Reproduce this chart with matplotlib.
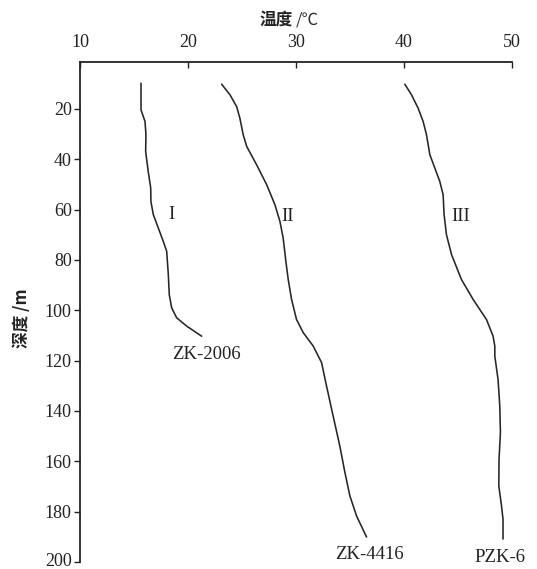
import matplotlib
matplotlib.use("Agg")
import matplotlib.pyplot as plt
import matplotlib.transforms as mtransforms

plt.rcParams['font.family'] = ['Liberation Serif', 'Noto Sans CJK SC']

# Well ZK-2006 (I): depth (m), temperature (°C)
d1 = [9.8, 20.4, 25.0, 30.3, 36.9, 44.9, 51.4, 56.8, 62.0, 67.3, 72.6, 76.6, 85.8, 93.8, 99.0, 103.0, 106.3, 110.3]
t1 = [15.65, 15.65, 16.02, 16.11, 16.08, 16.32, 16.55, 16.57, 16.79, 17.25, 17.71, 18.03, 18.18, 18.27, 18.49, 18.95, 19.88, 21.27]
# Well ZK-4416 (II)
d2 = [10.2, 14.4, 19.1, 23.7, 30.3, 34.9, 42.2, 50.1, 58.1, 64.7, 71.3, 80.5, 87.8, 95.7, 103.7, 108.9, 114.2, 120.8,
      130.1, 142.0, 153.9, 164.4, 173.7, 181.7, 190.1]
t2 = [23.12, 23.89, 24.51, 24.81, 25.12, 25.44, 26.36, 27.29, 28.06, 28.52, 28.82, 29.07, 29.29, 29.60, 30.06, 30.68,
      31.60, 32.38, 32.84, 33.45, 34.07, 34.54, 35.00, 35.62, 36.55]
# Well PZK-6 (III)
d3 = [10.2, 14.4, 19.7, 25.0, 30.3, 38.2, 43.5, 48.8, 54.1, 62.0, 70.0, 77.9, 87.8, 95.7, 103.7, 110.3, 114.3, 118.2,
      127.5, 138.0, 148.6, 159.2, 169.8, 177.7, 183.0, 190.9]
t3 = [40.09, 40.71, 41.32, 41.79, 42.10, 42.41, 42.87, 43.33, 43.64, 43.73, 43.95, 44.42, 45.34, 46.42, 47.66, 48.27,
      48.43, 48.43, 48.73, 48.89, 48.95, 48.82, 48.80, 49.05, 49.19, 49.19]

xticks = [10, 20, 30, 40, 50]
yticks = [20, 40, 60, 80, 100, 120, 140, 160, 180, 200]

fig = plt.figure(figsize=(5.37, 5.69), dpi=100)
ax = fig.add_axes([0.149, 0.0123, 0.804, 0.8787])
lc = '#262626'
for d, t in [(d1, t1), (d2, t2), (d3, t3)]:
    ax.plot(t, d, color=lc, lw=1.15, solid_joinstyle='round', solid_capstyle='round')

ax.set_xlim(10, 50)
ax.set_ylim(200, 1.4)
ax.xaxis.tick_top()
ax.set_xticks(xticks)
ax.set_yticks(yticks)
ax.tick_params(axis='x', direction='in', length=4, width=1, pad=8, labelsize=13, colors='#222222')
ax.tick_params(axis='y', direction='out', length=4, width=1, pad=2, labelsize=13, colors='#222222')
for s in ['right', 'bottom']:
    ax.spines[s].set_visible(False)
for s in ['left', 'top']:
    ax.spines[s].set_linewidth(1.3)
    ax.spines[s].set_color('#222222')

# nudge the bottom-most tick label up slightly so it stays inside the canvas
last = ax.get_yticklabels()[-1]
last.set_transform(last.get_transform() + mtransforms.ScaledTranslation(0, 3/100, fig.dpi_scale_trans))

fig.text(293/537, 1-20/569, '温度', ha='right', va='center', fontsize=12,
         family=['Noto Sans CJK SC', 'DejaVu Sans'], fontweight='bold', color='#222222')
fig.text(296/537, 1-20/569, '/℃', ha='left', va='center', fontsize=12,
         family=['Noto Sans CJK SC', 'DejaVu Sans'], color='#333333')
fig.text(22/537, 1-318/569, '深度 /m', ha='center', va='center', fontsize=12, rotation=90,
         family=['Noto Sans CJK SC', 'DejaVu Sans'], fontweight='bold', color='#222222')

kw = dict(fontsize=13.5, color='#222222', ha='center', va='center')
ax.text(18.5, 62.1, 'I', **kw)
ax.text(29.26, 62.9, 'II', **kw)
ax.text(45.28, 62.9, 'III', **kw)
ax.text(21.73, 117.7, 'ZK-2006', **kw)
ax.text(36.85, 197.2, 'ZK-4416', **kw)
ax.text(48.9, 198.4, 'PZK-6', **kw)

fig.savefig('out.png', dpi=100)
